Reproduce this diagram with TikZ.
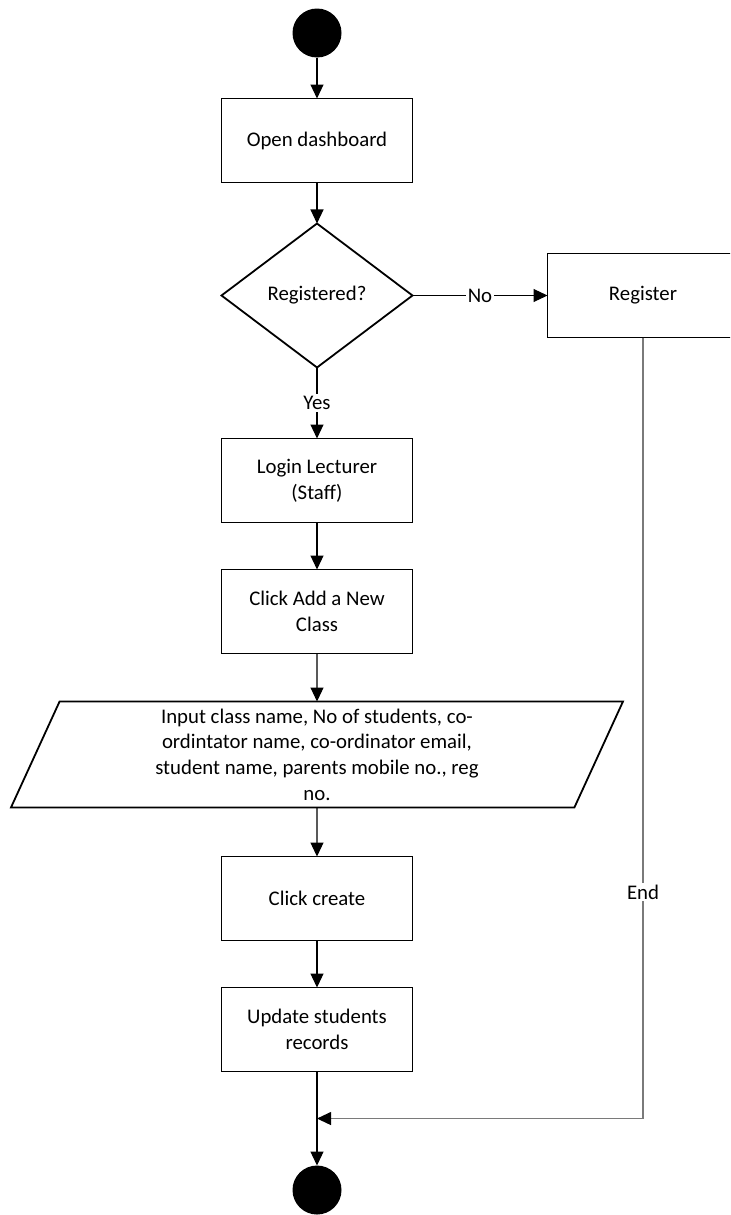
\documentclass[tikz,border=0pt]{standalone}
\usepackage{fontspec}
\setmainfont{Carlito}
\usepackage{xcolor}
\definecolor{cMain}{HTML}{000000}
\definecolor{cGray}{HTML}{7A7A7A}
\usepackage{tikz}
\usetikzlibrary{positioning,arrows.meta,shapes.geometric,calc}
\tikzset{
  node-box/.style={draw=cMain,line width=0.9pt,minimum width=95.5pt,
    minimum height=42pt,align=center,inner sep=2pt,outer sep=0pt},
  node-dot/.style={circle,fill=cMain,minimum size=24.5pt,inner sep=0pt,
    outer sep=0pt},
  node-cond/.style={diamond,draw=cMain,line width=0.9pt,aspect=1.33,
    minimum width=95.5pt,minimum height=72pt,inner sep=0pt,outer sep=0pt},
  node-input/.style={trapezium,draw=cMain,line width=0.9pt,
    trapezium left angle=62,trapezium right angle=118,
    trapezium stretches body,minimum width=306pt,minimum height=53pt,
    align=center,inner sep=0pt,outer sep=0pt},
  node-lbl/.style={fill=white,inner sep=1pt},
  arrow/.style={-{Triangle[length=7pt,width=6.5pt]},line width=0.55pt,draw=cMain},
  arrow-end/.style={-{Triangle[length=7pt,width=6.5pt,color=cMain]},
    line width=0.55pt,draw=cGray},
}

\begin{document}
\begin{tikzpicture}[x=0.5pt,y=-0.5pt,node distance=23.5pt,
  font=\fontsize{10.4pt}{12.8pt}\selectfont]
  \path[use as bounding box,clip] (0,0) rectangle (730,1215);
  \node[node-dot] (start) at (317,33) {};
  \node[node-box,below=20.5pt of start] (open) {Open dashboard};
  \node[node-cond,below=20.5pt of open] (reg-q) {Registered?};
  \node[node-box,right=67.5pt of reg-q] (reg) {Register};
  \node[node-box,below=35.5pt of reg-q] (login) {Login Lecturer\\(Staff)};
  \node[node-box,below=of login] (add-cls) {Click Add a New\\Class};
  \node[node-input,below=24pt of add-cls] (input) {Input class name, No of students, co-\\ordintator name, co-ordinator email,\\student name, parents mobile no., reg\\no.};
  \node[node-box,below=24.5pt of input] (create) {Click create};
  \node[node-box,below=of create] (update) {Update students\\records};
  \node[node-dot,below=47pt of update] (stop) {};
  \coordinate (merge) at ($(update.south)!0.5!(stop.north)$);
  \draw[arrow] (start) -- (open);
  \draw[arrow] (open) -- (reg-q);
  \draw[arrow] (reg-q) -- node[node-lbl]{No} (reg);
  \draw[arrow] (reg-q) -- node[node-lbl]{Yes} (login);
  \draw[arrow] (login) -- (add-cls);
  \draw[arrow] (add-cls) -- (input);
  \draw[arrow] (input) -- (create);
  \draw[arrow] (create) -- (update);
  \draw[arrow] (update) -- (stop);
  \draw[arrow-end] (reg) -- node[node-lbl,pos=0.71]{End} (reg |- merge) -- (merge);
\end{tikzpicture}
\end{document}
